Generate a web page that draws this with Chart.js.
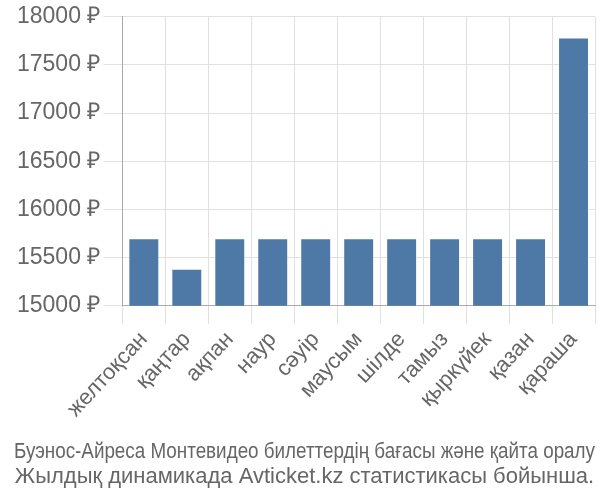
<!DOCTYPE html>
<html>
<head>
<meta charset="utf-8">
<script src="https://cdn.jsdelivr.net/npm/chart.js@4/dist/chart.umd.min.js"></script>
<style>
  html, body { margin: 0; padding: 0; background: #fff; }
  #wrap { width: 600px; height: 500px; }
</style>
</head>
<body>
<div id="wrap"><canvas id="chart"></canvas></div>
<script>
const months = ['желтоқсан', 'қаңтар', 'ақпан', 'наур', 'сәуір', 'маусым', 'шілде', 'тамыз', 'қыркүйек', 'қазан', 'қараша'];
const prices = [15700, 15385, 15700, 15700, 15700, 15700, 15700, 15700, 15700, 15700, 17785];
const titleLines = [
  'Буэнос-Айреса Монтевидео билеттердің бағасы және қайта оралу',
  'Жылдық динамикада Avticket.kz статистикасы бойынша.'
];

Chart.defaults.font.family = '"Liberation Sans", Arial, sans-serif';
Chart.defaults.color = '#666';

const ctx = document.getElementById('chart').getContext('2d');
new Chart(ctx, {
  type: 'bar',
  data: {
    labels: months,
    datasets: [{
      data: prices,
      backgroundColor: '#4e79a7',
      borderColor: 'rgba(255,255,255,0.35)',
      borderWidth: 1
    }]
  },
  options: {
    responsive: true,
    maintainAspectRatio: false,
    animation: false,
    layout: { padding: { left: 14, right: 5, top: 5, bottom: 0 } },
    plugins: {
      legend: { display: false },
      tooltip: { enabled: false },
      title: {
        display: true,
        position: 'bottom',
        text: titleLines,
        color: '#666',
        font: { size: 22, weight: 'normal', lineHeight: 1.15 },
        padding: { top: 14, bottom: 10 }
      }
    },
    scales: {
      x: {
        grid: { color: '#e0e0e0', offset: true, tickLength: 18 },
        border: { color: '#aaa', width: 1 },
        ticks: { font: { size: 22 }, maxRotation: 47, minRotation: 47, color: '#666' }
      },
      y: {
        min: 15000,
        max: 18000,
        grid: { color: '#e0e0e0', tickLength: 19 },
        border: { color: '#aaa', width: 1 },
        ticks: {
          stepSize: 500,
          font: { size: 23 },
          color: '#666',
          callback: v => v + ' ₽'
        }
      }
    }
  }
});
</script>
</body>
</html>
